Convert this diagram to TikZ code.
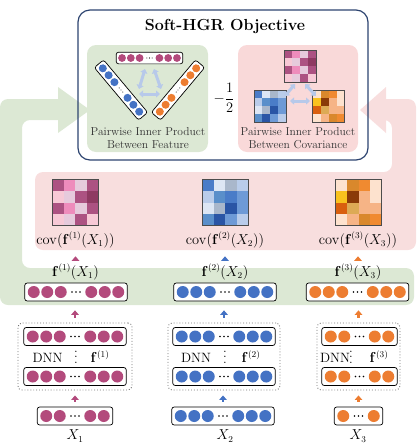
\documentclass[tikz,border=0pt]{standalone}
\usepackage{amsmath, amssymb}
\usepackage{xcolor}
\usetikzlibrary{arrows.meta}
\definecolor{fea-green}{HTML}{DCE8D4}
\definecolor{cov-pink}{HTML}{F8DEDE}
\definecolor{box-pink}{HTML}{F9D9D9}
\definecolor{obj-navy}{HTML}{2D4470}
\definecolor{unit-mag}{HTML}{B34A7C}
\definecolor{unit-blue}{HTML}{4472C4}
\definecolor{unit-orange}{HTML}{ED7D31}
\definecolor{pale-blue}{HTML}{B7C9EA}
\definecolor{m1}{HTML}{8E3A62}
\definecolor{m2}{HTML}{AC5282}
\definecolor{m3}{HTML}{EE8CBC}
\definecolor{m4}{HTML}{E6CADC}
\definecolor{m5}{HTML}{F7C9D6}
\definecolor{b1}{HTML}{2A55A5}
\definecolor{b2}{HTML}{4A7CC8}
\definecolor{b3}{HTML}{6E9AD6}
\definecolor{b4}{HTML}{B9CCEA}
\definecolor{b5}{HTML}{DDE6F4}
\definecolor{b6}{HTML}{A9B7CB}
\definecolor{b7}{HTML}{5A8FCA}
\definecolor{o1}{HTML}{8A3A08}
\definecolor{o2}{HTML}{D95F0E}
\definecolor{o3}{HTML}{F08A30}
\definecolor{o4}{HTML}{DDAA55}
\definecolor{o5}{HTML}{F6B486}
\definecolor{o6}{HTML}{FDE2CE}
\definecolor{o7}{HTML}{F9C21E}
\definecolor{o8}{HTML}{D9882C}
\def\magcells{m2,m3,m4,m2,m5,m4,m2,m1,m2,m3,m4,m2,m5,m4,m2,m5}
\def\bluecells{b2,b5,b6,b4,b4,b7,b2,b3,b5,b6,b1,b3,b7,b1,b3,b4}
\def\orangecells{o6,o8,o3,o6,o7,o1,o5,o6,o2,o4,o5,o5,o6,o5,o8,o3}
\newcommand{\layerdots}{\vbox{\baselineskip=5.5pt\lineskiplimit=0pt\hbox{.}\hbox{.}\hbox{.}}}

\tikzset{
  unit bar/.style={draw, fill=white, rounded corners=2.5pt, line width=0.7pt,
    minimum height=18pt, inner sep=0pt},
  grid frame/.style={draw=black!70, line width=0.4pt, inner sep=0pt},
  dnn box/.style={draw=black!55, dotted, line width=0.9pt, rounded corners=4pt,
    inner sep=0pt},
  dnn text/.style={inner sep=0.5pt},
  up arrow/.style={line width=2.6pt, -{Triangle[width=7.5pt,length=4.5pt]}},
  pair arrow/.style={draw=pale-blue, line width=3pt,
    {Triangle[width=7pt,length=4pt]}-{Triangle[width=7pt,length=4pt]}},
  soft text/.style={text=black!80, align=center, font=\fontsize{11.5}{13}\selectfont}
}

\newcommand{\unitbar}[7]{%
  \begin{scope}[shift={(#2,#3)}, rotate=#7, scale=#6]
    \node[unit bar, transform shape, minimum width={(48.5+(#4-1)*27)*1pt}] (#1) at (0,0) {};
    \foreach \k in {1,...,#4} {
      \fill[#5] ({15.25+(\k-1)*13.5},0) circle (6);
      \fill[#5] ({-15.25-(\k-1)*13.5},0) circle (6);
    }
    \foreach \d in {-4,0,4} \fill[black] (\d,0) circle (0.9);
  \end{scope}}

\newcommand{\covgrid}[5]{%
  \foreach \cellcol [count=\i from 0] in #5 {
    \pgfmathtruncatemacro{\gr}{\i/4}
    \pgfmathtruncatemacro{\gc}{mod(\i,4)}
    \fill[\cellcol] ({#2+(\gc-2)*#4},{#3+(\gr-2)*#4}) rectangle ++(#4,#4);
  }
  \node[grid frame, minimum size={4*#4*1pt}] (#1) at (#2,#3) {};}

\begin{document}
\begin{tikzpicture}[x=1pt, y=-1pt, every node/.style={font=\fontsize{13.5}{16}\selectfont}]
  \useasboundingbox (0,0) rectangle (416,448);
  \fill[fea-green, rounded corners=8pt] (0,305) -- (0,99) -- (70,99) -- (70,120) -- (22,120)
    -- (22,268) -- (414,268) -- (414,305) -- cycle;
  \fill[fea-green] (58,87) -- (90,110) -- (58,133) -- cycle;
  \fill[cov-pink, rounded corners=8pt] (35,172) -- (392,172) -- (392,120) -- (378,120)
    -- (378,99) -- (416,99) -- (416,250) -- (35,250) -- cycle;
  \fill[cov-pink] (386,87) -- (360,110) -- (386,133) -- cycle;

  \node[draw=obj-navy, line width=1.2pt, rounded corners=12pt, minimum width=290pt,
    minimum height=150pt, inner sep=0pt] (obj) at (223,85) {};
  \node[font=\fontsize{16}{18}\selectfont\bfseries] (title) at (225,26) {Soft-HGR Objective};
  \node[fill=fea-green, rounded corners=9pt, minimum width=121pt, minimum height=107pt]
    (feabox) at (147.5,98.5) {};
  \node[fill=box-pink, rounded corners=9pt, minimum width=120pt, minimum height=107pt]
    (covbox) at (298,98.5) {};
  \node[soft text] (featxt) at (148,138) {Pairwise Inner Product\\Between Feature};
  \node[soft text] (covtxt) at (298,138) {Pairwise Inner Product\\Between Covariance};
  \node (half) at (224,98) {$-\dfrac{1}{2}$};

  \unitbar{pmag}{149.5}{58}{3}{unit-mag}{0.65}{0}
  \unitbar{pblue}{121}{90}{3}{unit-blue}{0.67}{-50}
  \unitbar{porange}{178}{90}{3}{unit-orange}{0.67}{50}
  \coordinate (fa1) at (139,89);
  \coordinate (fa2) at (145,69);
  \coordinate (fa3) at (154,69);
  \coordinate (fa4) at (161,89);
  \coordinate (fa5) at (139,94);
  \coordinate (fa6) at (160,94);
  \draw[pair arrow] (fa1) -- (fa2);
  \draw[pair arrow] (fa3) -- (fa4);
  \draw[pair arrow] (fa5) -- (fa6);

  \covgrid{pcov1}{300}{66}{8}{\magcells}
  \covgrid{pcov2}{270}{106}{8}{\bluecells}
  \covgrid{pcov3}{328.5}{106}{8}{\orangecells}
  \coordinate (ca1) at (295,84);
  \coordinate (ca2) at (285,96);
  \coordinate (ca3) at (305,84);
  \coordinate (ca4) at (316,96);
  \coordinate (ca5) at (290,101);
  \coordinate (ca6) at (310,101);
  \draw[pair arrow] (ca1) -- (ca2);
  \draw[pair arrow] (ca3) -- (ca4);
  \draw[pair arrow] (ca5) -- (ca6);

  \covgrid{cov1}{75}{202.5}{11.5}{\magcells}
  \node (cov1lbl) at (75.5,240) {$\mathrm{cov}(\mathbf{f}^{(1)}(X_1))$};
  \node (f1lbl) at (75.5,272) {$\mathbf{f}^{(1)}(X_1)$};
  \unitbar{feat1}{76}{292}{3}{unit-mag}{1}{0}
  \node[dnn box, minimum width=114pt, minimum height=67pt] (dnn1) at (75,356.5) {};
  \unitbar{dnn1top}{75}{336.5}{3}{unit-mag}{1}{0}
  \unitbar{dnn1bot}{75}{376.5}{3}{unit-mag}{1}{0}
  \node[dnn text] (dnn1txt) at (47.5,358) {DNN};
  \node[dnn text] (dnn1dots) at (76,357) {\layerdots};
  \node[dnn text] (dnn1f) at (100,357) {$\mathbf{f}^{(1)}$};
  \unitbar{in1}{75}{416}{2}{unit-mag}{1}{0}
  \node (x1lbl) at (75,436) {$X_1$};
  \draw[up arrow, unit-mag, shorten <=2pt, shorten >=5pt] (f1lbl.north) -- (cov1lbl.south);
  \draw[up arrow, unit-mag, shorten <=5pt, shorten >=9pt] (dnn1.north) -- (dnn1.north |- feat1.south);
  \draw[up arrow, unit-mag, shorten <=5pt, shorten >=5pt] (in1.north) -- (in1.north |- dnn1.south);

  \covgrid{cov2}{225}{202.5}{11.5}{\bluecells}
  \node (cov2lbl) at (225,240) {$\mathrm{cov}(\mathbf{f}^{(2)}(X_2))$};
  \node (f2lbl) at (225,272) {$\mathbf{f}^{(2)}(X_2)$};
  \unitbar{feat2}{225}{292}{3}{unit-blue}{1}{0}
  \node[dnn box, minimum width=112pt, minimum height=67pt] (dnn2) at (224,356.5) {};
  \unitbar{dnn2top}{224}{336.5}{3}{unit-blue}{1}{0}
  \unitbar{dnn2bot}{224}{376.5}{3}{unit-blue}{1}{0}
  \node[dnn text] (dnn2txt) at (196,358) {DNN};
  \node[dnn text] (dnn2dots) at (225,357) {\layerdots};
  \node[dnn text] (dnn2f) at (251,357) {$\mathbf{f}^{(2)}$};
  \unitbar{in2}{223}{416}{3}{unit-blue}{1}{0}
  \node (x2lbl) at (225,436) {$X_2$};
  \draw[up arrow, unit-blue, shorten <=2pt, shorten >=5pt] (f2lbl.north) -- (cov2lbl.south);
  \draw[up arrow, unit-blue, shorten <=5pt, shorten >=9pt] (dnn2.north) -- (dnn2.north |- feat2.south);
  \draw[up arrow, unit-blue, shorten <=5pt, shorten >=5pt] (in2.north) -- (in2.north |- dnn2.south);

  \covgrid{cov3}{358.5}{202.5}{11.5}{\orangecells}
  \node (cov3lbl) at (358,240) {$\mathrm{cov}(\mathbf{f}^{(3)}(X_3))$};
  \node (f3lbl) at (358,272) {$\mathbf{f}^{(3)}(X_3)$};
  \unitbar{feat3}{357.5}{292}{3}{unit-orange}{1}{0}
  \node[dnn box, minimum width=83pt, minimum height=67pt] (dnn3) at (358.5,356.5) {};
  \unitbar{dnn3top}{359.5}{336.5}{2}{unit-orange}{1}{0}
  \unitbar{dnn3bot}{359.5}{376.5}{2}{unit-orange}{1}{0}
  \node[dnn text] (dnn3txt) at (335,358) {DNN};
  \node[dnn text] (dnn3dots) at (351,357) {\layerdots};
  \node[dnn text] (dnn3f) at (379,357) {$\mathbf{f}^{(3)}$};
  \unitbar{in3}{358.5}{416}{1}{unit-orange}{1}{0}
  \node (x3lbl) at (358,436) {$X_3$};
  \draw[up arrow, unit-orange, shorten <=2pt, shorten >=5pt] (f3lbl.north) -- (cov3lbl.south);
  \draw[up arrow, unit-orange, shorten <=5pt, shorten >=9pt] (dnn3.north) -- (dnn3.north |- feat3.south);
  \draw[up arrow, unit-orange, shorten <=5pt, shorten >=5pt] (in3.north) -- (in3.north |- dnn3.south);
\end{tikzpicture}
\end{document}
